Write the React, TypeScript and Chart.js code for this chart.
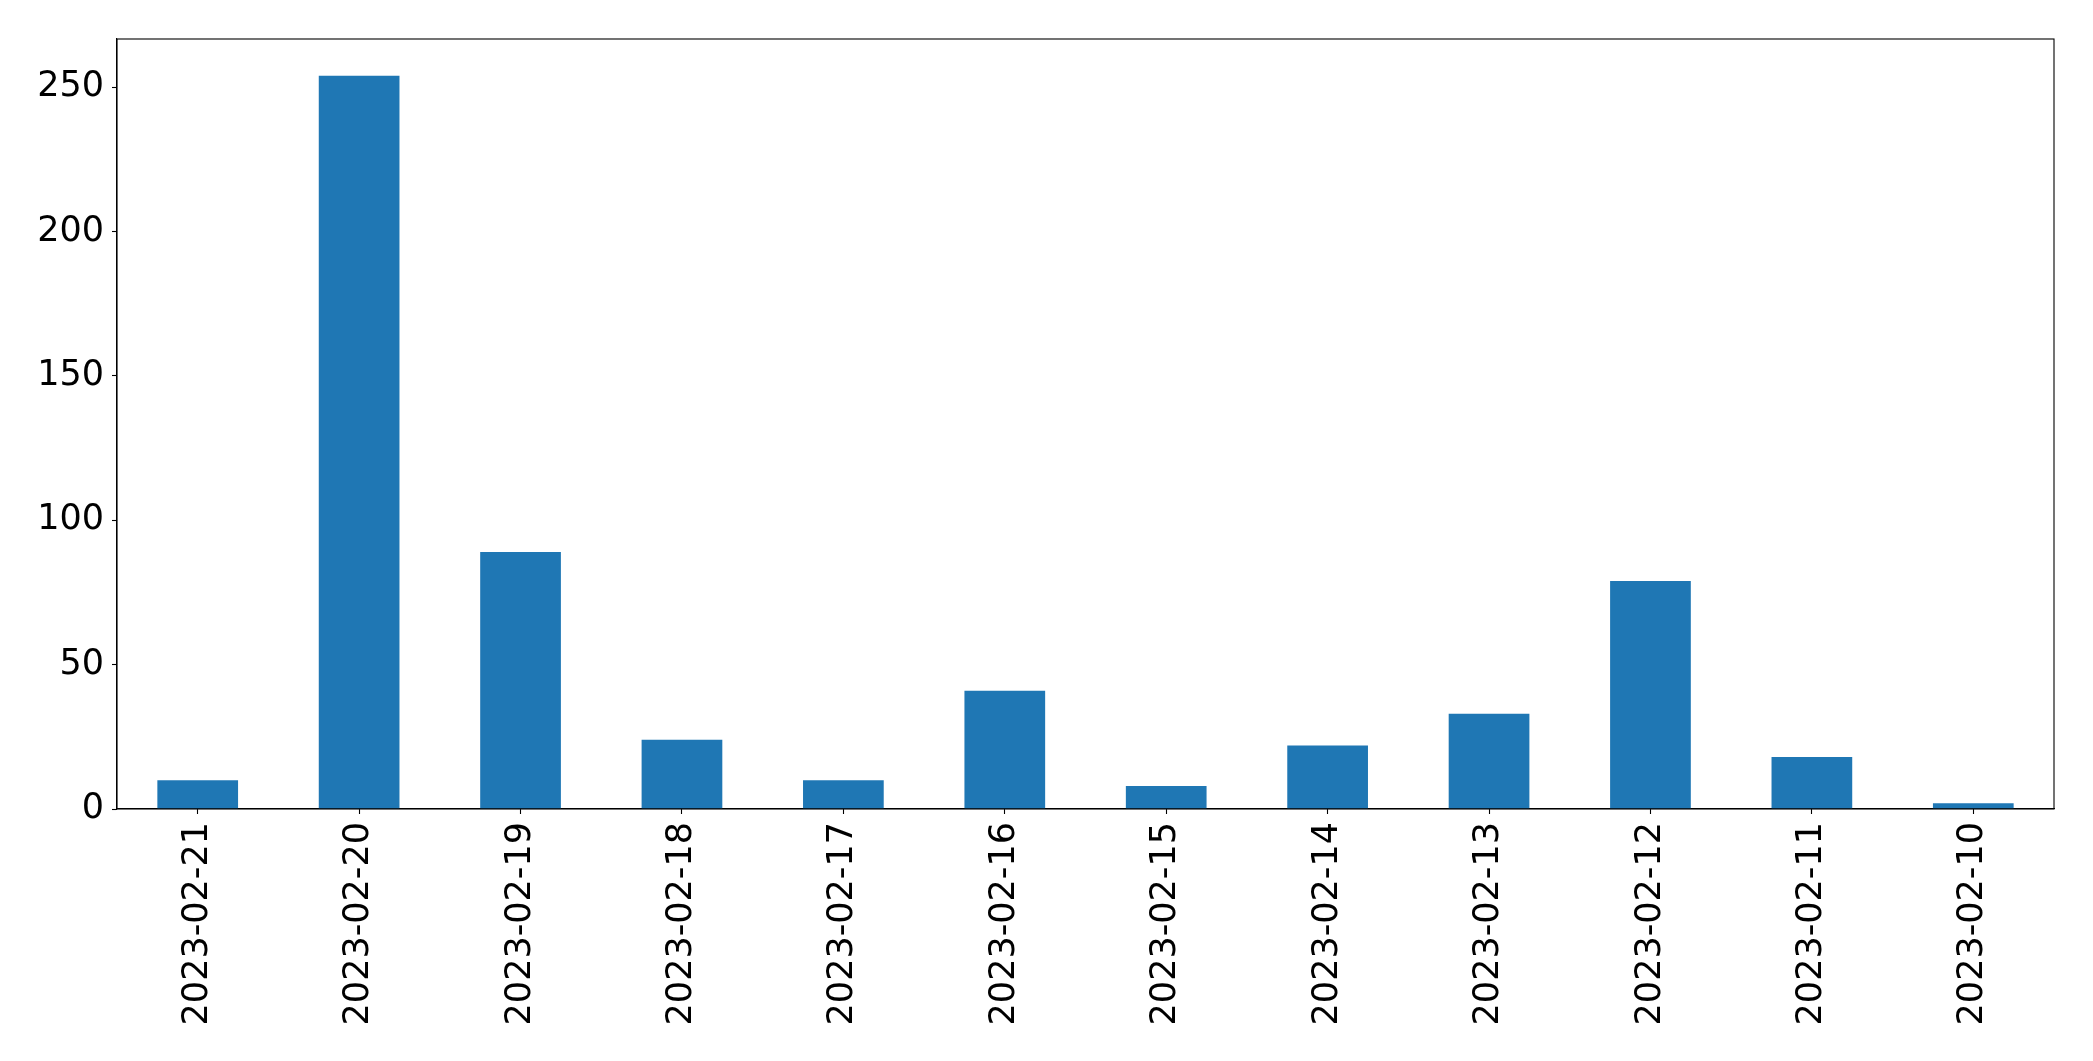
import React, { useEffect, useRef } from "react";
import { Chart, registerables } from "chart.js";

Chart.register(...registerables);

const categories = [
  "2023-02-21",
  "2023-02-20",
  "2023-02-19",
  "2023-02-18",
  "2023-02-17",
  "2023-02-16",
  "2023-02-15",
  "2023-02-14",
  "2023-02-13",
  "2023-02-12",
  "2023-02-11",
  "2023-02-10",
];

const counts = [10, 254, 89, 24, 10, 41, 8, 22, 33, 79, 18, 2];

const yTicks = [0, 50, 100, 150, 200, 250];

const W = 2093;
const H = 1061;

const framePlugin = {
  id: "frame",
  afterDraw(chart: any) {
    const { ctx, chartArea } = chart;
    ctx.save();
    ctx.strokeStyle = "#000";
    ctx.lineWidth = 1.1;
    ctx.strokeRect(
      chartArea.left,
      chartArea.top,
      chartArea.right - chartArea.left,
      chartArea.bottom - chartArea.top
    );
    ctx.restore();
  },
};

export default function App() {
  const ref = useRef<HTMLCanvasElement | null>(null);

  useEffect(() => {
    document.body.style.margin = "0";
    const canvas = ref.current;
    if (!canvas) return;
    const maxVal = Math.max(...counts);
    const chart = new Chart(canvas, {
      type: "bar",
      data: {
        labels: categories,
        datasets: [
          {
            data: counts,
            backgroundColor: "#1f77b4",
            borderWidth: 0,
            barPercentage: 0.5,
            categoryPercentage: 1,
          },
        ],
      },
      options: {
        animation: false,
        responsive: false,
        devicePixelRatio: 1,
        layout: { padding: { top: 39, right: 39, left: 0, bottom: 0 } },
        plugins: {
          legend: { display: false },
          tooltip: { enabled: false },
          title: { display: false },
        },
        scales: {
          x: {
            type: "category",
            offset: true,
            grid: {
              display: true,
              offset: false,
              drawOnChartArea: false,
              drawTicks: true,
              tickLength: 5,
              tickWidth: 1.1,
              tickColor: "#000",
              color: "#000",
            },
            border: { display: true, color: "#000", width: 1.1 },
            ticks: {
              autoSkip: false,
              maxRotation: 90,
              minRotation: 90,
              padding: 8,
              color: "#000",
              font: { family: "DejaVu Sans", size: 35 },
            },
            afterFit: (scale: any) => {
              scale.height = H - 809;
            },
          },
          y: {
            type: "linear",
            min: 0,
            max: maxVal * 1.05,
            grid: {
              display: true,
              drawOnChartArea: false,
              drawTicks: true,
              tickLength: 5,
              tickWidth: 1.1,
              tickColor: "#000",
              color: "#000",
            },
            border: { display: true, color: "#000", width: 1.1 },
            ticks: {
              stepSize: 50,
              padding: 8,
              color: "#000",
              font: { family: "DejaVu Sans", size: 35 },
            },
            afterBuildTicks: (scale: any) => {
              scale.ticks = yTicks.map((v) => ({ value: v }));
            },
            afterFit: (scale: any) => {
              scale.width = 117;
            },
          },
        },
      },
      plugins: [framePlugin],
    });
    return () => chart.destroy();
  }, []);

  return (
    <div style={{ position: "absolute", left: 0, top: 0, width: W, height: H, background: "#fff" }}>
      <canvas ref={ref} width={W} height={H} style={{ width: W, height: H, display: "block" }} />
    </div>
  );
}
